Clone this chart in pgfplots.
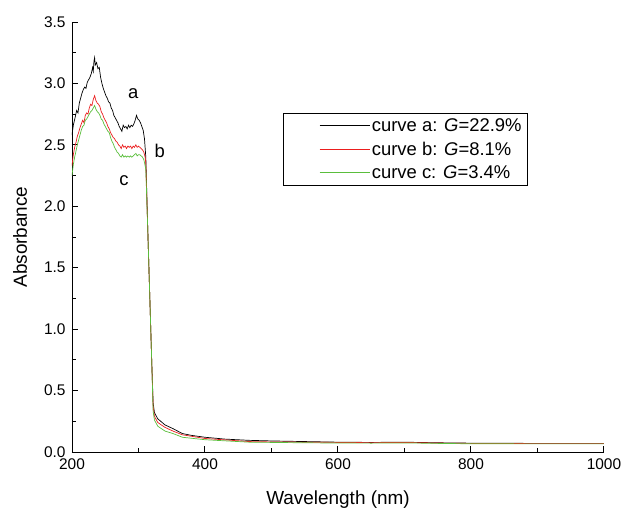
\documentclass[border=0pt]{standalone}
\usepackage{pgfplots}
\pgfplotsset{compat=1.18}
\usepackage{fontspec}
\setmainfont{Liberation Sans}
\definecolor{cgreen}{RGB}{90,190,60}
\definecolor{cred}{RGB}{235,30,30}
\newcommand{\fs}{\fontsize{15.5}{17}\selectfont}
\newcommand{\fl}{\fontsize{19}{22}\selectfont}
\newcommand{\fg}{\fontsize{18.5}{21}\selectfont}
\begin{document}
\begin{tikzpicture}
\useasboundingbox (-72bp,-57bp) rectangle (550bp,452bp);
\begin{axis}[
  scale only axis, width=532bp, height=430bp,
  xmin=200, xmax=1000, ymin=0, ymax=3.5,
  axis x line*=bottom, axis y line*=left,
  axis line style={line width=1pt},
  tick align=inside,
  tick style={line width=1pt, black},
  major tick length=6bp, minor tick length=4bp,
  xtick={200,400,600,800,1000}, minor xtick={300,500,700,900},
  ytick={0,0.5,1,1.5,2,2.5,3,3.5}, minor ytick={0.25,0.75,1.25,1.75,2.25,2.75,3.25},
  tick label style={font=\fs},
  /pgf/number format/assume math mode=true,
  /pgf/number format/1000 sep={},
  yticklabel style={/pgf/number format/fixed,/pgf/number format/precision=1,/pgf/number format/fixed zerofill, xshift=-3bp},
  xticklabel style={yshift=-3bp},
  xlabel={Wavelength (nm)}, ylabel={Absorbance},
  xlabel style={font=\fl, at={(axis description cs:0.5,-0.121)}, anchor=base},
  ylabel style={font=\fl, at={(axis description cs:-0.0977,0.5)}, anchor=center},
  every axis plot/.append style={line width=0.7pt},
  legend style={at={(0.397,0.788)}, anchor=north west, draw=black, line width=0.6pt, legend cell align=left, row sep=5bp, inner xsep=4bp, inner ysep=3bp, font=\fg},
  legend image code/.code={\path[draw=none] (0bp,0bp) -- (32bp,0bp); \draw[#1] (32bp,0bp) -- (82bp,0bp);},
]
\addplot[black] coordinates {
(200,2.58)(202,2.66)(205,2.73)(207,2.78)(209,2.76)(211,2.84)(213,2.88)(215,2.92)(217,2.95)(219,2.97)
(221,2.96)(223,3.01)(225,3.03)(227,3.05)(229,3.08)(231,3.13)(232,3.10)(233,3.18)(234,3.21)(235,3.15)
(237,3.17)(239,3.12)(241,3.13)(243,3.05)(245,3.00)(247,2.96)(249,2.93)(251,2.90)(253,2.88)(255,2.85)
(257,2.84)(259,2.80)(261,2.78)(263,2.74)(265,2.72)(267,2.70)(269,2.68)(271,2.65)(273,2.63)(275,2.61)
(277,2.66)(279,2.64)(281,2.65)(283,2.63)(285,2.66)(287,2.64)(289,2.66)(291,2.65)(293,2.67)(295,2.70)
(297,2.74)(299,2.71)(301,2.70)(303,2.68)(305,2.65)(307,2.62)(309,2.55)(311,2.40)(312,2.20)(314,1.80)
(317,1.26)(320,0.72)(322,0.40)(324,0.32)(329,0.27)(340,0.22)(352,0.19)(366,0.15)(380,0.135)(400,0.12)
(430,0.105)(466,0.095)(500,0.09)(550,0.085)(600,0.08)(650,0.078)(700,0.08)(750,0.075)(800,0.072)(900,0.07)(1000,0.07)
};
\addplot[cred] coordinates {
(200,2.33)(202,2.42)(204,2.48)(206,2.52)(208,2.57)(210,2.60)(212,2.64)(214,2.67)(216,2.70)(218,2.68)
(220,2.74)(222,2.76)(224,2.75)(226,2.80)(228,2.83)(230,2.82)(232,2.87)(234,2.90)(236,2.86)(238,2.84)
(240,2.83)(242,2.81)(244,2.77)(246,2.75)(248,2.72)(250,2.70)(252,2.68)(254,2.65)(256,2.63)(258,2.60)
(260,2.58)(262,2.56)(264,2.55)(266,2.53)(268,2.52)(270,2.50)(272,2.49)(274,2.47)(276,2.50)(278,2.48)
(280,2.49)(282,2.47)(284,2.49)(286,2.48)(288,2.49)(290,2.47)(292,2.49)(294,2.48)(296,2.50)(298,2.48)
(300,2.49)(302,2.48)(304,2.47)(306,2.46)(308,2.44)(310,2.40)(311,2.35)(314,1.80)(317,1.26)(320,0.72)
(322,0.37)(324,0.29)(329,0.24)(340,0.20)(352,0.17)(366,0.14)(400,0.11)(466,0.085)(500,0.082)(550,0.08)
(600,0.078)(650,0.076)(700,0.078)(750,0.073)(800,0.07)(900,0.068)(1000,0.068)
};
\addplot[cgreen] coordinates {
(200,2.25)(202,2.34)(204,2.40)(206,2.45)(208,2.50)(210,2.54)(212,2.58)(214,2.62)(216,2.65)(218,2.66)
(220,2.70)(222,2.71)(224,2.73)(226,2.75)(228,2.77)(230,2.78)(232,2.80)(234,2.82)(236,2.79)(238,2.77)
(240,2.76)(242,2.74)(244,2.71)(246,2.70)(248,2.67)(250,2.65)(252,2.63)(254,2.61)(256,2.60)(258,2.56)
(260,2.53)(262,2.51)(264,2.48)(266,2.46)(268,2.44)(270,2.43)(272,2.41)(274,2.40)(276,2.42)(278,2.40)
(280,2.41)(282,2.40)(284,2.41)(286,2.40)(288,2.41)(290,2.40)(292,2.41)(294,2.42)(296,2.43)(298,2.41)
(300,2.42)(302,2.42)(304,2.41)(306,2.40)(308,2.38)(310,2.33)(311,2.30)(314,1.80)(317,1.26)(320,0.72)
(322,0.33)(324,0.26)(329,0.21)(340,0.17)(352,0.15)(366,0.12)(400,0.10)(466,0.08)(500,0.078)(550,0.075)
(600,0.073)(650,0.072)(700,0.074)(750,0.07)(800,0.067)(900,0.066)(1000,0.066)
};
\legend{curve a: \textit{G}=22.9\%, curve b: \textit{G}=8.1\%, curve c: \textit{G}=3.4\%}
\node[font=\fg] at (axis cs:292,2.92) {a};
\node[font=\fg] at (axis cs:332,2.45) {b};
\node[font=\fg] at (axis cs:278,2.21) {c};
\end{axis}
\end{tikzpicture}
\end{document}
